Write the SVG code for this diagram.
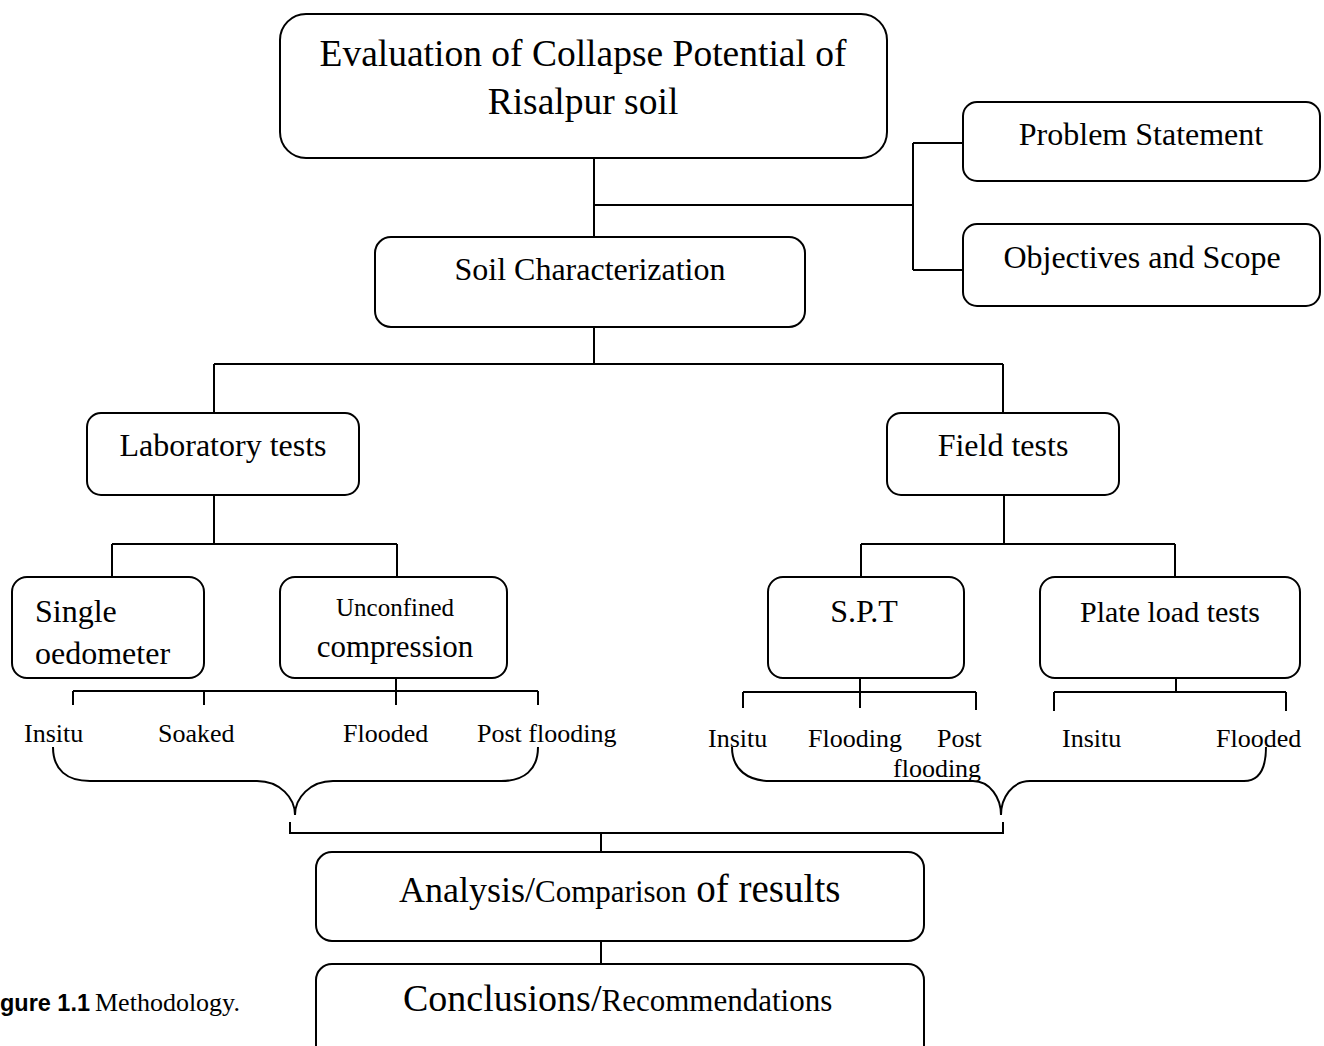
<svg xmlns="http://www.w3.org/2000/svg" width="1324" height="1046" viewBox="0 0 1324 1046">
<style>
.box{fill:#fff;stroke:#000;stroke-width:2}
.ln{fill:none;stroke:#000;stroke-width:2}
text{font-family:"Liberation Serif","Times New Roman",serif;fill:#000}
.m{text-anchor:middle}
.t32{font-size:32px}
.leaf{font-size:26px}
</style>
<rect width="1324" height="1046" fill="#fff"/>
<g id="connectors" class="ln">
<path d="M594 158V237M594 205H913M913 143V270M913 143H963M913 270H963"/>
<path d="M594 327V364M214 364H1003M214 364V413M1003 364V413"/>
<path d="M214 495V544M112 544H397M112 544V577M397 544V577"/>
<path d="M1004 495V544M861 544H1175M861 544V577M1175 544V577"/>
<path d="M73 691H538M73 691V705M204 691V705M396 678V705M538 691V705"/>
<path d="M743 692H976M743 692V708M860 678V708M976 692V710"/>
<path d="M1054 692H1286M1054 692V711M1286 692V711M1176 662V692"/>
<path d="M53 747C53 770 67 781 90 781H257C280 781 295 798 295 815M295 815C295 798 310 781 333 781H501C524 781 538 770 538 747"/>
<path d="M732 747C732 770 748 781 771 781H973C990 781 1001 798 1001 815M1001 815C1001 798 1012 781 1030 781H1244C1258 781 1266 770 1266 747"/>
<path d="M290 822V833H1003V822M601 833V852M601 941V964"/>
</g>
<g id="n-title">
<rect class="box" x="280" y="14" width="607" height="144" rx="26"/>
<text class="m" x="583" y="66" font-size="37.5">Evaluation of Collapse Potential of</text>
<text class="m" x="583" y="114" font-size="37.5">Risalpur soil</text>
</g>
<g id="n-problem">
<rect class="box" x="963" y="102" width="357" height="79" rx="14"/>
<text class="m t32" x="1141" y="145">Problem Statement</text>
</g>
<g id="n-objectives">
<rect class="box" x="963" y="224" width="357" height="82" rx="14"/>
<text class="m t32" x="1142" y="268">Objectives and Scope</text>
</g>
<g id="n-soil">
<rect class="box" x="375" y="237" width="430" height="90" rx="16"/>
<text class="m t32" x="590" y="280">Soil Characterization</text>
</g>
<g id="n-lab">
<rect class="box" x="87" y="413" width="272" height="82" rx="14"/>
<text class="m t32" x="223" y="456">Laboratory tests</text>
</g>
<g id="n-field">
<rect class="box" x="887" y="413" width="232" height="82" rx="14"/>
<text class="m t32" x="1003" y="456">Field tests</text>
</g>
<g id="n-single">
<rect class="box" x="12" y="577" width="192" height="101" rx="15"/>
<text class="t32" x="35" y="622">Single</text>
<text class="t32" x="35" y="664">oedometer</text>
</g>
<g id="n-unconfined">
<rect class="box" x="280" y="577" width="227" height="101" rx="15"/>
<text class="m" x="395" y="616" font-size="25">Unconfined</text>
<text class="m" x="395" y="657" font-size="31">compression</text>
</g>
<g id="n-spt">
<rect class="box" x="768" y="577" width="196" height="101" rx="15"/>
<text class="m t32" x="864" y="622">S.P.T</text>
</g>
<g id="n-plate">
<rect class="box" x="1040" y="577" width="260" height="101" rx="15"/>
<text class="m" x="1170" y="622" font-size="30">Plate load tests</text>
</g>
<g id="leaves-lab">
<text class="leaf" x="24" y="742">Insitu</text>
<text class="leaf" x="158" y="742">Soaked</text>
<text class="leaf" x="343" y="742">Flooded</text>
<text class="leaf" x="477" y="742">Post flooding</text>
</g>
<g id="leaves-field">
<text class="leaf" x="708" y="747">Insitu</text>
<text class="leaf" x="808" y="747">Flooding</text>
<text class="leaf" x="937" y="747">Post</text>
<text class="leaf" x="893" y="777">flooding</text>
<text class="leaf" x="1062" y="747">Insitu</text>
<text class="leaf" x="1216" y="747">Flooded</text>
</g>
<g id="n-analysis">
<rect class="box" x="316" y="852" width="608" height="89" rx="16"/>
<text x="399" y="902"><tspan font-size="36">Analysis/</tspan><tspan font-size="31">Comparison</tspan><tspan font-size="39"> of results</tspan></text>
</g>
<g id="n-conclusions">
<rect class="box" x="316" y="964" width="608" height="120" rx="16"/>
<text x="403" y="1011"><tspan font-size="38">Conclusions/</tspan><tspan font-size="31">Recommendations</tspan></text>
</g>
<g id="caption">
<text y="1011"><tspan x="0" font-family="Liberation Sans, Arial, sans-serif" font-weight="bold" font-size="24" textLength="90" lengthAdjust="spacingAndGlyphs">gure 1.1</tspan><tspan x="95" font-size="26">Methodology.</tspan></text>
</g>
</svg>
